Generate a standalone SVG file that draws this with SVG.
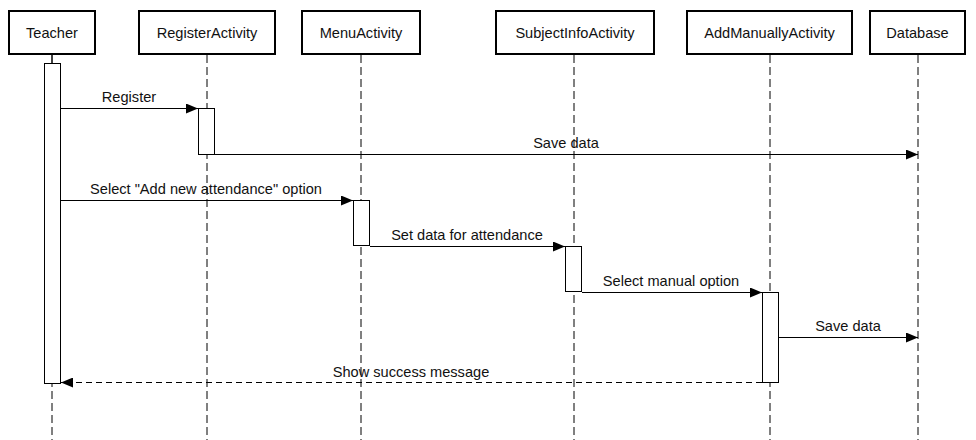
<svg xmlns="http://www.w3.org/2000/svg" width="976" height="440" viewBox="0 0 976 440">
<style>
.box{fill:#fff;stroke:#000;stroke-width:2}
.act{fill:#fff;stroke:#000;stroke-width:1}
.life{stroke:#000;stroke-width:1;stroke-dasharray:8 4;fill:none}
.msg{stroke:#000;stroke-width:1;fill:none}
.ret{stroke:#000;stroke-width:1;fill:none;stroke-dasharray:6 4}
text{font-family:"Liberation Sans",Arial,sans-serif;font-size:14.6px;fill:#111;text-anchor:middle}
</style>
<defs>
<marker id="ah" markerWidth="12" markerHeight="10" refX="12" refY="5" orient="auto" markerUnits="userSpaceOnUse">
<path d="M0,0 L12,5 L0,10 Z" fill="#000"/>
</marker>
</defs>
<rect width="976" height="440" fill="#fff"/>
<g id="lifelines">
<line class="life" x1="52" y1="55" x2="52" y2="440"/>
<line class="life" x1="207" y1="55" x2="207" y2="440"/>
<line class="life" x1="361" y1="55" x2="361" y2="440"/>
<line class="life" x1="574" y1="55" x2="574" y2="440"/>
<line class="life" x1="770" y1="55" x2="770" y2="440"/>
<line class="life" x1="918" y1="55" x2="918" y2="440"/>
</g>
<g id="teacher">
<rect class="box" x="9" y="11" width="86" height="43"/>
<text x="52" y="38">Teacher</text>
<line x1="52" y1="55" x2="52" y2="63" stroke="#000"/>
<rect class="act" x="44.5" y="63.5" width="16" height="320"/>
</g>
<g id="registerActivity">
<rect class="box" x="139" y="11" width="136" height="43"/>
<text x="207" y="38">RegisterActivity</text>
<rect class="act" x="198.5" y="108.5" width="16" height="46"/>
</g>
<g id="menuActivity">
<rect class="box" x="302" y="11" width="118" height="43"/>
<text x="361" y="38">MenuActivity</text>
<rect class="act" x="353.5" y="200.5" width="16" height="45"/>
</g>
<g id="subjectInfoActivity">
<rect class="box" x="496" y="11" width="158" height="43"/>
<text x="575" y="38">SubjectInfoActivity</text>
<rect class="act" x="565.5" y="246.5" width="16" height="45"/>
</g>
<g id="addManuallyActivity">
<rect class="box" x="687" y="11" width="165" height="43"/>
<text x="769.5" y="38">AddManuallyActivity</text>
<rect class="act" x="762.5" y="292.5" width="16" height="90"/>
</g>
<g id="database">
<rect class="box" x="870" y="11" width="95" height="43"/>
<text x="917.5" y="38">Database</text>
</g>
<g id="connectors">
<line class="msg" x1="61" y1="108.5" x2="198" y2="108.5" marker-end="url(#ah)"/>
<text x="129" y="102">Register</text>
<line class="msg" x1="215" y1="154.5" x2="918" y2="154.5" marker-end="url(#ah)"/>
<text x="566" y="148">Save data</text>
<line class="msg" x1="61" y1="200.5" x2="353" y2="200.5" marker-end="url(#ah)"/>
<text x="206" y="194">Select "Add new attendance" option</text>
<line class="msg" x1="370" y1="246.5" x2="565" y2="246.5" marker-end="url(#ah)"/>
<text x="467" y="240">Set data for attendance</text>
<line class="msg" x1="582" y1="292.5" x2="762" y2="292.5" marker-end="url(#ah)"/>
<text x="671" y="286">Select manual option</text>
<line class="msg" x1="779" y1="337.5" x2="918" y2="337.5" marker-end="url(#ah)"/>
<text x="848" y="331">Save data</text>
<line class="ret" x1="762" y1="382.5" x2="61" y2="382.5" marker-end="url(#ah)"/>
<text x="411" y="377">Show success message</text>
</g>
</svg>
